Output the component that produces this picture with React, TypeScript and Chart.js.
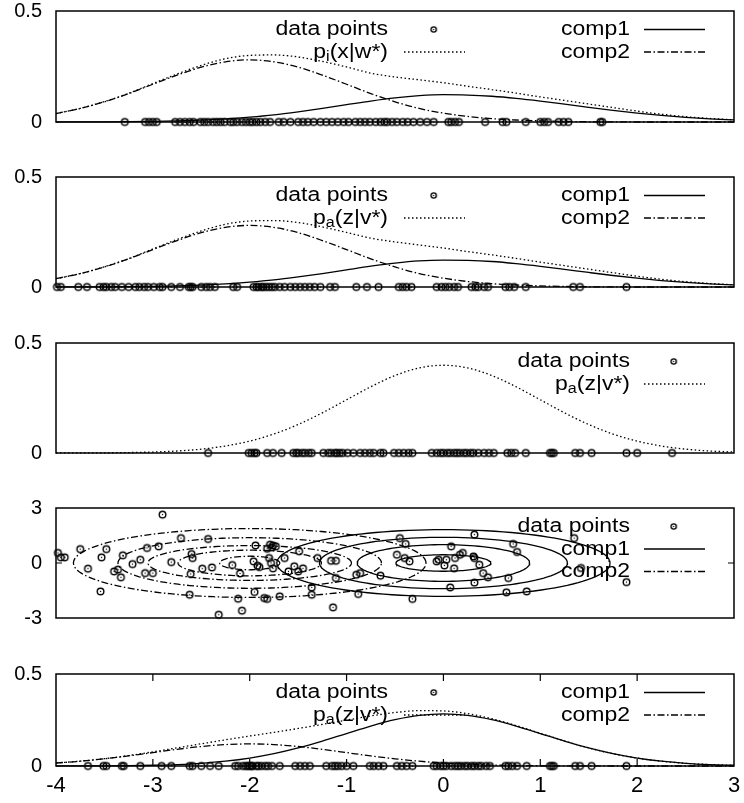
import React, { useEffect, useRef } from "react";
import { Chart, registerables } from "chart.js";

Chart.register(...registerables);

const FONT = "'Liberation Sans', Arial, Helvetica, sans-serif";
Chart.defaults.font.family = FONT;
Chart.defaults.color = "#000";

// ---------------- data ----------------
const curveX = [-4, -3.75, -3.5, -3.25, -3, -2.75, -2.5, -2.25, -2, -1.75, -1.5, -1.25, -1, -0.75, -0.5, -0.25, 0, 0.25, 0.5, 0.75, 1, 1.25, 1.5, 1.75, 2, 2.25, 2.5, 2.75, 3];

// panel 1: p_i(x|w*)
const p1Comp1 = [0.0001, 0.0003, 0.0007, 0.0014, 0.0026, 0.0048, 0.0084, 0.0138, 0.0217, 0.032, 0.0457, 0.0612, 0.078, 0.0945, 0.1086, 0.1185, 0.123, 0.1215, 0.1159, 0.1064, 0.0942, 0.0803, 0.066, 0.0523, 0.04, 0.0294, 0.0208, 0.0142, 0.0094];
const p1Comp2 = [0.038, 0.061, 0.091, 0.128, 0.17, 0.211, 0.247, 0.271, 0.28, 0.271, 0.247, 0.211, 0.17, 0.128, 0.091, 0.061, 0.04, 0.025, 0.015, 0.009, 0.005, 0.0025, 0.001, 0.0004, 0.0001, 0, 0, 0, 0];
const p1Mix = [0.038, 0.061, 0.092, 0.129, 0.173, 0.216, 0.255, 0.285, 0.3, 0.302, 0.293, 0.273, 0.248, 0.22, 0.203, 0.19, 0.177, 0.161, 0.146, 0.13, 0.113, 0.097, 0.081, 0.065, 0.049, 0.035, 0.024, 0.016, 0.01];
const p1Points = [-3.29, -3.08, -3.04, -3.0, -2.96, -2.77, -2.72, -2.67, -2.62, -2.58, -2.51, -2.47, -2.43, -2.38, -2.34, -2.3, -2.26, -2.2, -2.17, -2.13, -2.08, -2.04, -2.0, -1.97, -1.93, -1.89, -1.84, -1.79, -1.7, -1.65, -1.58, -1.5, -1.45, -1.4, -1.34, -1.27, -1.21, -1.15, -1.09, -1.03, -0.98, -0.91, -0.86, -0.81, -0.76, -0.7, -0.65, -0.61, -0.58, -0.53, -0.48, -0.42, -0.37, -0.31, -0.24, -0.17, -0.1, 0.05, 0.08, 0.12, 0.16, 0.43, 0.61, 0.65, 0.85, 1.0, 1.04, 1.08, 1.19, 1.24, 1.29, 1.62, 1.64];

// panel 2: p_a(z|v*)
const p2Comp1 = [0.0001, 0.0003, 0.0007, 0.0014, 0.0026, 0.0048, 0.0084, 0.0138, 0.0217, 0.032, 0.0457, 0.0612, 0.078, 0.0945, 0.1086, 0.1185, 0.122, 0.121, 0.1159, 0.1064, 0.0942, 0.0803, 0.066, 0.0523, 0.04, 0.0294, 0.0208, 0.0142, 0.0094];
const p2Comp2 = [0.038, 0.061, 0.091, 0.128, 0.17, 0.211, 0.247, 0.271, 0.28, 0.271, 0.247, 0.211, 0.17, 0.128, 0.091, 0.061, 0.04, 0.025, 0.015, 0.009, 0.005, 0.0025, 0.001, 0.0004, 0.0001, 0, 0, 0, 0];
const p2Mix = [0.038, 0.061, 0.092, 0.129, 0.173, 0.216, 0.255, 0.285, 0.3, 0.302, 0.293, 0.273, 0.248, 0.222, 0.205, 0.191, 0.177, 0.161, 0.146, 0.13, 0.113, 0.097, 0.081, 0.065, 0.049, 0.035, 0.024, 0.016, 0.01];
const p2Points = [-3.99, -3.95, -3.77, -3.68, -3.55, -3.51, -3.48, -3.43, -3.39, -3.32, -3.25, -3.18, -3.14, -3.09, -3.05, -2.99, -2.93, -2.9, -2.81, -2.72, -2.63, -2.61, -2.59, -2.5, -2.45, -2.41, -2.36, -2.17, -2.13, -1.96, -1.93, -1.91, -1.88, -1.86, -1.83, -1.8, -1.77, -1.74, -1.69, -1.64, -1.58, -1.53, -1.48, -1.43, -1.38, -1.33, -1.27, -1.17, -1.12, -0.9, -0.79, -0.67, -0.46, -0.42, -0.38, -0.33, -0.07, -0.02, 0.02, 0.06, 0.11, 0.15, 0.29, 0.33, 0.36, 0.42, 0.46, 0.64, 0.68, 0.73, 0.85, 1.34, 1.41, 1.89];

// panel 3: p_a(z|v*) single density
const p3Mix = [0.0001, 0.0004, 0.0009, 0.002, 0.0044, 0.0091, 0.0175, 0.0317, 0.054, 0.0863, 0.1295, 0.1826, 0.242, 0.3011, 0.3521, 0.3867, 0.3989, 0.3867, 0.3521, 0.3011, 0.242, 0.1826, 0.1295, 0.0863, 0.054, 0.0317, 0.0175, 0.0091, 0.0044];
const p3Points = [-2.43, -2.01, -1.98, -1.95, -1.93, -1.82, -1.76, -1.67, -1.55, -1.52, -1.5, -1.46, -1.43, -1.39, -1.36, -1.24, -1.19, -1.16, -1.12, -1.1, -1.07, -1.04, -0.99, -0.93, -0.86, -0.81, -0.76, -0.72, -0.65, -0.62, -0.51, -0.46, -0.41, -0.36, -0.32, -0.12, -0.07, -0.03, 0.0, 0.04, 0.07, 0.11, 0.14, 0.17, 0.21, 0.24, 0.28, 0.31, 0.36, 0.42, 0.47, 0.52, 0.66, 0.7, 0.74, 0.85, 1.1, 1.12, 1.14, 1.36, 1.41, 1.53, 1.89, 2.0, 2.36];

// panel 4: 2-D data points and component contours
const p4PointsX = [-2.9, -3.98, -3.95, -3.91, -3.75, -3.67, -3.54, -3.53, -3.48, -3.4, -3.36, -3.33, -3.31, -3.21, -3.13, -3.08, -3.06, -3.0, -2.94, -2.81, -2.71, -2.62, -2.61, -2.6, -2.59, -2.49, -2.43, -2.39, -2.32, -2.18, -2.12, -2.1, -2.08, -1.96, -1.94, -1.95, -1.92, -1.9, -1.85, -1.82, -1.82, -1.8, -1.79, -1.77, -1.76, -1.73, -1.78, -1.76, -1.69, -1.64, -1.6, -1.54, -1.5, -1.49, -1.45, -1.36, -1.36, -1.3, -1.16, -1.11, -1.14, -1.11, -0.9, -0.86, -0.88, -0.65, -0.45, -0.39, -0.48, -0.4, -0.35, -0.32, -0.07, -0.05, 0.01, 0.03, 0.11, 0.08, 0.12, 0.17, 0.2, 0.31, 0.32, 0.37, 0.41, 0.46, 0.07, 0.32, 0.32, 0.65, 0.67, 0.72, 0.76, 0.86, 1.35, 1.42, 1.89];
const p4PointsY = [2.64, 0.55, 0.31, 0.31, 0.76, -0.31, -1.55, 0.31, 0.76, -0.46, -0.36, -0.78, 0.42, -0.06, 0.18, -0.55, 0.82, -0.55, 0.91, 0.05, 1.36, -1.73, -0.6, 0.49, 0.27, -0.31, 1.31, -0.24, -2.82, -0.11, -1.95, -0.57, -2.6, 0.09, 0.96, -1.58, -0.15, -0.22, -1.91, 0.78, -1.96, 0.27, 1.0, 0.85, 0.96, 0.91, 0.0, -0.29, -1.82, 0.27, -0.46, -0.18, -0.46, 0.64, -0.29, -1.33, -1.73, 0.27, 0.12, 0.12, -2.42, -0.82, -0.64, -0.55, -1.69, -0.69, 1.36, 1.04, 0.45, 0.27, 0.09, -1.96, 0.09, 0.18, -0.13, 0.18, -0.29, 0.91, 0.27, 0.45, 0.55, 0.36, 0.27, -0.09, -0.55, -0.78, -1.33, -1.07, 1.55, -1.6, -0.82, 1.04, 0.6, -1.55, 1.36, -0.27, -1.04];
const comp1Center = [0, 0];
const comp1RadiusX = [0.49, 0.89, 1.28, 1.72];
const comp1RadiusY = [0.45, 1.0, 1.4, 1.82];
const comp2Center = [-2, 0];
const comp2RadiusX = [0.31, 0.74, 1.05, 1.36, 1.82];
const comp2RadiusY = [0.37, 0.7, 0.95, 1.38, 1.88];

// panel 5: p_a(z|v*) with components
const p5Comp1 = [0.0001, 0.0004, 0.0009, 0.002, 0.004, 0.008, 0.0148, 0.026, 0.0429, 0.0667, 0.098, 0.1354, 0.1766, 0.2171, 0.2515, 0.2748, 0.283, 0.2748, 0.2515, 0.2171, 0.1766, 0.1354, 0.098, 0.0667, 0.0429, 0.026, 0.0148, 0.008, 0.004];
const p5Comp2 = [0.0162, 0.026, 0.039, 0.0549, 0.0728, 0.0906, 0.1059, 0.1163, 0.12, 0.1163, 0.1059, 0.0906, 0.0728, 0.0549, 0.039, 0.026, 0.0162, 0.0096, 0.0053, 0.0027, 0.0013, 0.0006, 0.0003, 0.0001, 0, 0, 0, 0, 0];
const p5Mix = [0.0163, 0.0264, 0.0399, 0.0569, 0.0768, 0.0986, 0.1207, 0.1423, 0.1629, 0.183, 0.2039, 0.226, 0.2494, 0.272, 0.2905, 0.3008, 0.2992, 0.2844, 0.2568, 0.2198, 0.1779, 0.136, 0.0983, 0.0668, 0.0429, 0.026, 0.0148, 0.008, 0.004];
const p5Points = [-3.67, -3.51, -3.48, -3.32, -3.3, -3.13, -2.91, -2.81, -2.62, -2.59, -2.5, -2.41, -2.32, -2.15, -2.12, -2.07, -2.04, -2.02, -2.0, -1.98, -1.97, -1.93, -1.91, -1.88, -1.84, -1.81, -1.77, -1.69, -1.53, -1.48, -1.43, -1.38, -1.21, -1.15, -1.12, -1.09, -1.05, -1.0, -0.93, -0.76, -0.72, -0.67, -0.62, -0.48, -0.43, -0.38, -0.32, -0.1, -0.07, -0.03, 0.0, 0.03, 0.08, 0.12, 0.15, 0.18, 0.22, 0.25, 0.29, 0.32, 0.36, 0.39, 0.44, 0.48, 0.64, 0.67, 0.71, 0.76, 0.86, 1.1, 1.12, 1.14, 1.36, 1.41, 1.53, 1.89];

// tick values
const xTickValues = [-4, -3, -2, -1, 0, 1, 2, 3];
const innerXTicks = [-3, -2, -1, 0, 1, 2];
const densityTicks = [0, 0.5];
const scatterTicks = [-3, 0, 3];

// ---------------- styling helpers ----------------
const DASHES: Record<string, number[]> = {
  solid: [],
  dashdot: [7, 2.5, 1.5, 2.5],
  dotted: [1.5, 2.5],
};
const LINE_W = 1.3;

const markerCache: Record<string, HTMLCanvasElement> = {};
function getMarker(r: number): HTMLCanvasElement {
  const key = String(r);
  if (markerCache[key]) return markerCache[key];
  const size = 11;
  const c = document.createElement("canvas");
  c.width = size;
  c.height = size;
  const g = c.getContext("2d")!;
  g.strokeStyle = "#000";
  g.lineWidth = 1.4;
  g.beginPath();
  g.arc(size / 2, size / 2, r, 0, Math.PI * 2);
  g.stroke();
  g.fillStyle = "#000";
  g.fillRect(size / 2 - 0.6, size / 2 - 0.6, 1.2, 1.2);
  markerCache[key] = c;
  return c;
}

function curve(xs: number[], ys: number[]) {
  return xs.map((x, i) => ({ x, y: ys[i] }));
}
function rowPoints(xs: number[]) {
  return xs.map((x) => ({ x, y: 0 }));
}
function scatterPoints(xs: number[], ys: number[]) {
  return xs.map((x, i) => ({ x, y: ys[i] }));
}
// contour outline of a component from its centre and radii
function contour(c: number[], rx: number, ry: number) {
  const pts: { x: number; y: number }[] = [];
  const n = 120;
  for (let k = 0; k <= n; k++) {
    const a = (k / n) * Math.PI * 2;
    pts.push({ x: c[0] + rx * Math.cos(a), y: c[1] + ry * Math.sin(a) });
  }
  return pts;
}

function pointSet(data: any[]) {
  return {
    data,
    showLine: false,
    pointStyle: getMarker(3.3),
    pointRadius: 3,
    pointHoverRadius: 3,
    clip: 8,
  };
}
function lineSet(data: any[], style: string, monotone = true) {
  return {
    data,
    showLine: true,
    pointRadius: 0,
    pointHoverRadius: 0,
    borderColor: "#000",
    borderWidth: LINE_W,
    borderDash: DASHES[style],
    cubicInterpolationMode: monotone ? "monotone" : "default",
    tension: 0,
    fill: false,
    clip: 2,
  };
}

type Part = { t: string; sub?: boolean };
type LegendEntry = {
  parts: Part[];
  textRight: number;
  row: number;
  sample: "point" | "solid" | "dashdot" | "dotted";
  sx: number;
};
type Panel = {
  id: string;
  cTop: number;
  cBottom: number;
  areaTop: number;
  areaBottom: number;
  yMin: number;
  yMax: number;
  yTicks: number[];
  showX: boolean;
  yZeroTicks: boolean;
  legend: LegendEntry[];
  makeDatasets: () => any[];
};

const TEXT_SIZE = 20;
const SUB_SIZE = 14;
const STRETCH = 1.15;

function drawParts(ctx: CanvasRenderingContext2D, parts: Part[], xRight: number, y: number) {
  const widths = parts.map((p) => {
    ctx.font = `${p.sub ? SUB_SIZE : TEXT_SIZE}px ${FONT}`;
    return ctx.measureText(p.t).width * STRETCH;
  });
  const total = widths.reduce((a, b) => a + b, 0);
  let x = xRight - total;
  parts.forEach((p, i) => {
    ctx.font = `${p.sub ? SUB_SIZE : TEXT_SIZE}px ${FONT}`;
    ctx.save();
    ctx.translate(x, y + (p.sub ? 5 : 0));
    ctx.scale(STRETCH, 1);
    ctx.textAlign = "left";
    ctx.textBaseline = "middle";
    ctx.fillStyle = "#000";
    ctx.fillText(p.t, 0, 0);
    ctx.restore();
    x += widths[i];
  });
}

function makePlugins(panel: Panel) {
  return [
    {
      id: "frame-" + panel.id,
      beforeDatasetsDraw(chart: any) {
        const { ctx, chartArea: a, scales } = chart;
        ctx.save();
        ctx.strokeStyle = "#000";
        ctx.lineWidth = 1.5;
        ctx.setLineDash([]);
        ctx.strokeRect(a.left, a.top, a.right - a.left, a.bottom - a.top);
        ctx.lineWidth = 1.2;
        if (panel.showX) {
          innerXTicks.forEach((v) => {
            const px = scales.x.getPixelForValue(v);
            ctx.beginPath();
            ctx.moveTo(px, a.bottom);
            ctx.lineTo(px, a.bottom - 7);
            ctx.moveTo(px, a.top);
            ctx.lineTo(px, a.top + 7);
            ctx.stroke();
          });
        }
        if (panel.yZeroTicks) {
          const py = scales.y.getPixelForValue(0);
          ctx.beginPath();
          ctx.moveTo(a.left, py);
          ctx.lineTo(a.left + 6, py);
          ctx.moveTo(a.right, py);
          ctx.lineTo(a.right - 6, py);
          ctx.stroke();
        }
        ctx.restore();
      },
    },
    {
      id: "keybox-" + panel.id,
      afterDraw(chart: any) {
        const { ctx, chartArea } = chart;
        ctx.save();
        panel.legend.forEach((e) => {
          const y = chartArea.top + 18.5 + e.row * 22.5;
          drawParts(ctx, e.parts, e.textRight, y);
          if (e.sample === "point") {
            const m = getMarker(2.6);
            ctx.drawImage(m, e.sx - m.width / 2, y - m.height / 2);
          } else {
            ctx.beginPath();
            ctx.setLineDash(DASHES[e.sample]);
            ctx.lineWidth = LINE_W;
            ctx.strokeStyle = "#000";
            ctx.moveTo(e.sx, y);
            ctx.lineTo(e.sx + 61, y);
            ctx.stroke();
            ctx.setLineDash([]);
          }
        });
        ctx.restore();
      },
    },
  ];
}

function buildConfig(panel: Panel): any {
  const xAxisHeight = panel.cBottom - panel.areaBottom;
  return {
    type: "scatter",
    data: { datasets: panel.makeDatasets() },
    options: {
      animation: false,
      responsive: false,
      devicePixelRatio: 1,
      events: [],
      layout: {
        padding: {
          left: 0,
          right: 10,
          top: panel.areaTop - panel.cTop,
          bottom: panel.showX ? 0 : xAxisHeight,
        },
      },
      plugins: { legend: { display: false }, tooltip: { enabled: false } },
      scales: {
        x: {
          type: "linear",
          min: -4,
          max: 3,
          display: panel.showX,
          grid: { display: false, drawTicks: false },
          border: { display: false },
          afterBuildTicks: (s: any) => {
            s.ticks = xTickValues.map((v) => ({ value: v }));
          },
          afterFit: (s: any) => {
            if (panel.showX) s.height = xAxisHeight;
            else s.height = 0;
            s.paddingLeft = 0;
            s.paddingRight = 0;
            s.paddingTop = 0;
            s.paddingBottom = 0;
          },
          ticks: {
            font: { family: FONT, size: 22 },
            color: "#000",
            padding: 7,
            maxRotation: 0,
            autoSkip: false,
            callback: (v: any) => String(v),
          },
        },
        y: {
          type: "linear",
          min: panel.yMin,
          max: panel.yMax,
          grid: { display: false, drawTicks: false },
          border: { display: false },
          afterBuildTicks: (s: any) => {
            s.ticks = panel.yTicks.map((v) => ({ value: v }));
          },
          afterFit: (s: any) => {
            s.width = 56;
            s.paddingTop = 0;
            s.paddingBottom = 0;
            s.paddingLeft = 0;
            s.paddingRight = 0;
          },
          ticks: {
            font: { family: FONT, size: 20 },
            color: "#000",
            padding: 14,
            autoSkip: false,
            callback: (v: any) => String(v),
          },
        },
      },
    },
    plugins: makePlugins(panel),
  };
}

const LEFT_TEXT = 388;
const RIGHT_TEXT = 630;

const panels: Panel[] = [
  {
    id: "p1",
    cTop: 0,
    cBottom: 140,
    areaTop: 11,
    areaBottom: 122,
    yMin: 0,
    yMax: 0.5,
    yTicks: densityTicks,
    showX: false,
    yZeroTicks: false,
    legend: [
      { parts: [{ t: "data points" }], textRight: LEFT_TEXT, row: 0, sample: "point", sx: 433.7 },
      { parts: [{ t: "p" }, { t: "i", sub: true }, { t: "(x|w*)" }], textRight: LEFT_TEXT, row: 1, sample: "dotted", sx: 404 },
      { parts: [{ t: "comp1" }], textRight: RIGHT_TEXT, row: 0, sample: "solid", sx: 644 },
      { parts: [{ t: "comp2" }], textRight: RIGHT_TEXT, row: 1, sample: "dashdot", sx: 644 },
    ],
    makeDatasets: () => [
      pointSet(rowPoints(p1Points)),
      lineSet(curve(curveX, p1Mix), "dotted"),
      lineSet(curve(curveX, p1Comp1), "solid"),
      lineSet(curve(curveX, p1Comp2), "dashdot"),
    ],
  },
  {
    id: "p2",
    cTop: 160,
    cBottom: 305,
    areaTop: 177,
    areaBottom: 287,
    yMin: 0,
    yMax: 0.5,
    yTicks: densityTicks,
    showX: false,
    yZeroTicks: false,
    legend: [
      { parts: [{ t: "data points" }], textRight: LEFT_TEXT, row: 0, sample: "point", sx: 433.7 },
      { parts: [{ t: "p" }, { t: "a", sub: true }, { t: "(z|v*)" }], textRight: LEFT_TEXT, row: 1, sample: "dotted", sx: 404 },
      { parts: [{ t: "comp1" }], textRight: RIGHT_TEXT, row: 0, sample: "solid", sx: 644 },
      { parts: [{ t: "comp2" }], textRight: RIGHT_TEXT, row: 1, sample: "dashdot", sx: 644 },
    ],
    makeDatasets: () => [
      pointSet(rowPoints(p2Points)),
      lineSet(curve(curveX, p2Mix), "dotted"),
      lineSet(curve(curveX, p2Comp1), "solid"),
      lineSet(curve(curveX, p2Comp2), "dashdot"),
    ],
  },
  {
    id: "p3",
    cTop: 325,
    cBottom: 470,
    areaTop: 343,
    areaBottom: 453,
    yMin: 0,
    yMax: 0.5,
    yTicks: densityTicks,
    showX: false,
    yZeroTicks: false,
    legend: [
      { parts: [{ t: "data points" }], textRight: RIGHT_TEXT, row: 0, sample: "point", sx: 673.7 },
      { parts: [{ t: "p" }, { t: "a", sub: true }, { t: "(z|v*)" }], textRight: RIGHT_TEXT, row: 1, sample: "dotted", sx: 644 },
    ],
    makeDatasets: () => [pointSet(rowPoints(p3Points)), lineSet(curve(curveX, p3Mix), "dotted")],
  },
  {
    id: "p4",
    cTop: 490,
    cBottom: 635,
    areaTop: 508,
    areaBottom: 618,
    yMin: -3,
    yMax: 3,
    yTicks: scatterTicks,
    showX: false,
    yZeroTicks: true,
    legend: [
      { parts: [{ t: "data points" }], textRight: RIGHT_TEXT, row: 0, sample: "point", sx: 673.7 },
      { parts: [{ t: "comp1" }], textRight: RIGHT_TEXT, row: 1, sample: "solid", sx: 644 },
      { parts: [{ t: "comp2" }], textRight: RIGHT_TEXT, row: 2, sample: "dashdot", sx: 644 },
    ],
    makeDatasets: () => [
      pointSet(scatterPoints(p4PointsX, p4PointsY)),
      ...comp1RadiusX.map((rx, i) => lineSet(contour(comp1Center, rx, comp1RadiusY[i]), "solid", false)),
      ...comp2RadiusX.map((rx, i) => lineSet(contour(comp2Center, rx, comp2RadiusY[i]), "dashdot", false)),
    ],
  },
  {
    id: "p5",
    cTop: 655,
    cBottom: 803,
    areaTop: 674,
    areaBottom: 766,
    yMin: 0,
    yMax: 0.5,
    yTicks: densityTicks,
    showX: true,
    yZeroTicks: false,
    legend: [
      { parts: [{ t: "data points" }], textRight: LEFT_TEXT, row: 0, sample: "point", sx: 433.7 },
      { parts: [{ t: "p" }, { t: "a", sub: true }, { t: "(z|v*)" }], textRight: LEFT_TEXT, row: 1, sample: "dotted", sx: 404 },
      { parts: [{ t: "comp1" }], textRight: RIGHT_TEXT, row: 0, sample: "solid", sx: 644 },
      { parts: [{ t: "comp2" }], textRight: RIGHT_TEXT, row: 1, sample: "dashdot", sx: 644 },
    ],
    makeDatasets: () => [
      pointSet(rowPoints(p5Points)),
      lineSet(curve(curveX, p5Mix), "dotted"),
      lineSet(curve(curveX, p5Comp1), "solid"),
      lineSet(curve(curveX, p5Comp2), "dashdot"),
    ],
  },
];

function PanelChart({ panel }: { panel: Panel }) {
  const ref = useRef<HTMLCanvasElement>(null);
  useEffect(() => {
    if (!ref.current) return;
    const chart = new Chart(ref.current, buildConfig(panel));
    return () => chart.destroy();
  }, [panel]);
  const h = panel.cBottom - panel.cTop;
  return (
    <canvas
      ref={ref}
      width={744}
      height={h}
      style={{ position: "absolute", left: 0, top: panel.cTop, width: 744, height: h, display: "block" }}
    />
  );
}

export default function App() {
  return (
    <div style={{ position: "absolute", left: 0, top: 0, width: 744, height: 803, background: "#fff", overflow: "hidden" }}>
      {panels.map((p) => (
        <PanelChart key={p.id} panel={p} />
      ))}
    </div>
  );
}
